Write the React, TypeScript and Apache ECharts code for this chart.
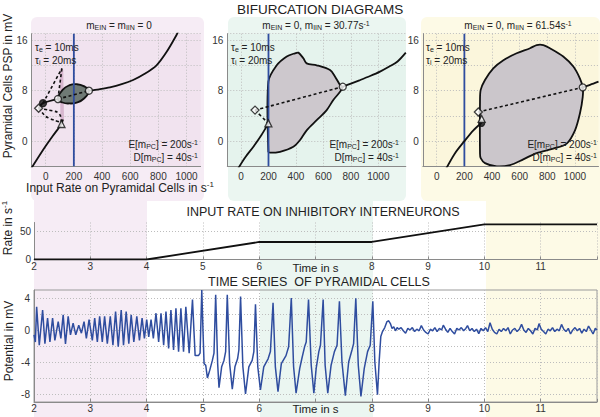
import React, { useEffect, useRef } from "react";
import * as echarts from "echarts";

const FONT = "'Liberation Sans', Arial, Helvetica, sans-serif";

// ---------- Bifurcation diagrams (top) ----------
const bifXTickValues = [0, 200, 400, 600, 800, 1000];
const bifYTickLabels = [0, 8, 16];
const meanInputPC = 200; // E[mPC], blue line

// Panel 1: mEIN = mIIN = 0
const p1LowerBranch = [[-110, -4.6], [-50, -2.5], [0, -0.8], [50, 0.8], [90, 2.0], [112, 2.7], [123, 3.4]];
const p1UpperLeft = [[-50, 5.2], [-19, 6.0], [87, 6.65]];
const p1UpperRight = [[307, 7.97], [380, 8.2], [456, 8.5], [540, 9.0], [621, 9.66], [700, 10.6], [787, 12.0], [858, 14.1], [929, 16.8], [945, 17.6]];
const p1DashedLowA = [[-50, 5.2], [20, 4.9], [80, 4.6], [105, 4.0], [112, 2.9]];
const p1DashedLowB = [[-50, 5.2], [0, 3.9], [60, 3.3], [100, 3.0], [112, 2.7]];
const p1DashedUpA = [[-19, 6.0], [115, 11.5]];
const p1DashedUpB = [[87, 6.65], [115, 11.5]];
const p1DashedCycle = [[87, 6.65], [307, 7.97]];
const p1Cycle = [[87, 6.65], [120, 8.1], [170, 8.85], [220, 9.0], [270, 8.7], [307, 7.97], [270, 6.7], [220, 6.1], [170, 5.95], [120, 6.1]];
const p1Strip = [[100, 11.5], [125, 11.3], [130, 3.2], [105, 3.0]];
const p1WhiteCircles = [[87, 6.65], [307, 7.97]];
const p1BlackDots = [[-19, 6.0]];
const p1Diamonds = [[-50, 5.2]];
const p1Triangles = [[112, 2.7]];

// Panel 2: mEIN = 0, mIIN = 30.77
const p2LowerBranch = [[-20, -4.3], [30, -2.6], [90, -0.9], [150, 1.0], [199, 2.8]];
const p2UpperBranch = [[741, 8.6], [800, 9.1], [867, 9.66], [940, 10.3], [1012, 11.0], [1080, 11.8], [1140, 12.6], [1200, 14.0]];
const p2DashedA = [[102, 4.9], [741, 8.6]];
const p2DashedB = [[102, 4.9], [199, 2.8]];
const p2Cycle = [[199, 9.4], [260, 12.0], [333, 13.4], [393, 13.9], [418, 14.0], [454, 13.1], [478, 12.3], [551, 12.0], [648, 11.25], [685, 10.2], [721, 8.9], [741, 8.6], [721, 7.8], [672, 6.5], [624, 4.9], [551, 3.3], [478, 1.7], [430, 0.16], [381, -0.9], [284, -1.7], [211, -1.85], [199, -1.7]];
const p2WhiteCircles = [[741, 8.6]];
const p2Diamonds = [[102, 4.9]];
const p2Triangles = [[199, 2.8]];

// Panel 3: mEIN = 0, mIIN = 61.54
const p3LowerBranch = [[60, -4.7], [130, -2.0], [197, -0.1], [265, 1.7], [325, 2.9]];
const p3UpperBranch = [[1056, 8.5], [1109, 8.9], [1170, 9.4]];
const p3Dashed = [[301, 4.6], [1056, 8.5]];
const p3Cycle = [[313, 6.5], [318, 8.1], [349, 9.66], [409, 11.5], [482, 12.8], [578, 13.9], [675, 14.7], [723, 15.2], [771, 15.2], [819, 14.7], [915, 13.4], [988, 11.8], [1036, 9.9], [1056, 8.5], [1056, 7.0], [1036, 4.4], [1000, 1.7], [940, -0.4], [843, -1.2], [723, -1.9], [626, -2.9], [530, -3.8], [434, -4.0], [349, -3.5], [318, -2.7], [313, -2.0]];
const p3WhiteCircles = [[1056, 8.5]];
const p3Diamonds = [[301, 4.6]];
const p3Triangles = [[325, 3.5]];
const p3BlackDots = [[325, 2.8]];

// ---------- Input rate on inhibitory interneurons (middle) ----------
const inhibitoryRate = [[2, 0], [4, 0], [6, 30.77], [8, 30.77], [10, 61.54], [12, 61.54]];
const rateTickLabels = [0, 50];

// ---------- Time series of pyramidal cells (bottom) ----------
const potentialTicks = [-8, -6, -4, -2, 0, 2, 4];
const potentialLabels = [-8, -4, 0, 4];
const pyramidalPotential = [
  [2.0, -0.6], [2.024, -1.5], [2.047, 2.9], [2.094, -1.9], [2.153, 2.5], [2.194, -1.7], [2.241, 1.5], [2.283, -1.5],
  [2.33, 1.5], [2.371, -1.3], [2.43, 1.05], [2.477, -1.05], [2.518, 1.9], [2.559, -1.75], [2.607, 1.7], [2.648, -0.6],
  [2.695, 0.85], [2.742, -0.6], [2.795, 0.6], [2.842, -0.4], [2.889, 1.05], [2.93, -1.05], [2.978, 1.3], [3.036, -1.3],
  [3.078, 1.5], [3.125, -1.5], [3.166, 1.7], [3.213, -1.5], [3.254, 1.7], [3.302, -1.7], [3.355, 1.7], [3.402, -1.9],
  [3.449, 2.3], [3.496, -2.1], [3.549, 2.5], [3.59, -1.9], [3.637, 2.3], [3.684, -1.7], [3.726, 1.9], [3.773, -1.5],
  [3.826, 1.7], [3.873, -1.3], [3.92, 1.5], [3.961, -1.05], [4.002, 1.3], [4.038, -0.85], [4.079, 1.3], [4.12, -1.05],
  [4.167, 2.1], [4.214, -1.5], [4.256, 2.1], [4.303, -1.9], [4.344, 2.3], [4.391, -2.3], [4.432, 2.5], [4.479, -2.5],
  [4.521, 2.7], [4.568, -2.7], [4.609, 2.7], [4.656, -2.7], [4.697, 2.9], [4.756, -2.9], [4.815, 3.8], [4.862, -3.2],
  [4.921, -3.2], [4.95, -2.9], [4.98, 5.0], [5.005, -0.85], [5.021, -4.2], [5.05, -4.4], [5.08, -6.0], [5.121, -5.05],
  [5.168, -3.8], [5.197, -2.9], [5.227, 4.4], [5.262, -4.2], [5.286, -7.2], [5.333, -4.6], [5.374, -3.8], [5.404, -2.7],
  [5.433, 4.4], [5.475, -4.2], [5.522, -7.4], [5.569, -4.6], [5.616, -3.6], [5.639, -2.5], [5.669, 4.2], [5.71, -4.6],
  [5.757, -8.0], [5.816, -4.6], [5.875, -3.8], [5.905, -2.7], [5.934, 3.2], [5.975, -4.6], [6.022, -7.5], [6.081, -4.6],
  [6.158, -3.6], [6.199, -2.7], [6.246, 3.4], [6.287, -4.6], [6.334, -7.7], [6.393, -4.2], [6.476, -3.2], [6.523, -2.1],
  [6.57, 4.0], [6.611, -4.6], [6.655, -7.9], [6.72, -4.8], [6.76, -3.5], [6.806, -2.1], [6.835, -1.5], [6.876, 3.8],
  [6.924, -4.4], [6.971, -7.9], [7.012, -4.8], [7.059, -2.7], [7.088, -1.9], [7.136, 3.8], [7.171, -4.4], [7.218, -7.9],
  [7.277, -4.4], [7.336, -2.7], [7.383, -1.9], [7.425, 3.6], [7.47, -4.0], [7.53, -8.2], [7.589, -4.0], [7.648, -2.5],
  [7.677, -1.7], [7.716, 3.96], [7.76, -4.4], [7.807, -8.3], [7.866, -4.8], [7.925, -2.7], [7.972, -1.9], [8.018, 3.6],
  [8.054, -4.0], [8.101, -8.1], [8.13, -4.0], [8.16, -0.8], [8.19, -0.2], [8.23, 0.3], [8.27, 1.05], [8.3, 1.15],
  [8.33, 0.8], [8.36, 0.2], [8.39, 0.4], [8.42, -0.1], [8.45, 0.3], [8.48, 0.1], [8.52, 0.3], [8.56, -0.1],
  [8.6, -0.4], [8.64, 0.2], [8.68, 0.0], [8.72, 0.3], [8.76, -0.2], [8.8, 0.1], [8.84, -0.1], [8.88, 0.55],
  [8.92, 0.0], [8.96, -0.3], [9.0, -0.5], [9.04, 0.1], [9.08, -0.1], [9.12, 0.3], [9.16, -0.2], [9.2, 0.2],
  [9.24, 0.0], [9.27, 0.6], [9.31, 0.1], [9.35, -0.3], [9.39, 0.2], [9.43, -0.2], [9.47, -0.5], [9.51, 0.2],
  [9.55, 0.0], [9.59, 0.3], [9.63, -0.1], [9.67, 0.2], [9.7, 0.55], [9.74, -0.1], [9.78, 0.2], [9.82, -0.2],
  [9.86, 0.1], [9.9, -0.45], [9.94, 0.2], [9.98, -0.1], [10.02, 0.3], [10.06, -0.2], [10.1, 0.9], [10.14, 0.1],
  [10.18, -0.3], [10.22, -0.5], [10.26, 0.1], [10.3, -0.2], [10.34, 0.2], [10.38, -0.1], [10.42, 0.3], [10.46, -0.5],
  [10.5, 0.0], [10.54, 0.2], [10.58, -0.2], [10.62, 0.1], [10.66, 0.7], [10.7, 0.0], [10.74, -0.3], [10.78, 0.2],
  [10.82, -0.1], [10.86, -0.5], [10.9, 0.2], [10.94, 0.0], [10.97, 0.8], [11.01, 0.1], [11.05, -0.2], [11.09, -0.5],
  [11.13, 0.1], [11.17, -0.1], [11.21, 0.3], [11.25, -0.2], [11.29, 0.1], [11.33, -0.1], [11.37, 0.7], [11.41, 0.1],
  [11.45, -0.2], [11.49, 0.2], [11.53, -0.5], [11.57, 0.0], [11.61, 0.3], [11.65, -0.1], [11.69, 0.2], [11.73, -0.4],
  [11.77, 0.1], [11.81, -0.2], [11.85, 0.5], [11.89, 0.0], [11.93, -0.5], [11.97, 0.2], [12.0, 0.0],
];

const BLUE = "#2f4d9f";
const BLACK = "#111";
const GRID_LINE = { color: "#bdbdbd", type: [1, 2], width: 1 };
const AXIS_LINE = { color: "#8a8a8a", width: 1 };

const solid = (data: number[][], i: number, color = BLACK, width = 1.8, smooth: number | boolean = 0.3, z = 4) => ({
  type: "line", xAxisIndex: i, yAxisIndex: i, data, symbol: "none", showSymbol: false, smooth,
  lineStyle: { color, width, type: "solid" }, z, silent: true,
});
const dashed = (data: number[][], i: number) => ({
  type: "line", xAxisIndex: i, yAxisIndex: i, data, symbol: "none", showSymbol: false, smooth: 0.2,
  lineStyle: { color: BLACK, width: 1.6, type: [3, 2.5] }, z: 5, silent: true,
});
const marker = (data: number[][], i: number, symbol: string, size: number, fill: string) => ({
  type: "scatter", xAxisIndex: i, yAxisIndex: i, data, symbol, symbolSize: size,
  itemStyle: { color: fill, borderColor: BLACK, borderWidth: 1.3 }, z: 7, silent: true,
});
const region = (pts: number[][], i: number, fill: string, stroke: string | null, smooth: number, z = 2) => ({
  type: "custom", xAxisIndex: i, yAxisIndex: i, data: [pts[0]], clip: true, z, silent: true,
  renderItem: (_p: any, api: any) => ({
    type: "polygon",
    shape: { points: pts.map((p) => api.coord(p)), smooth },
    style: { fill, stroke: stroke || "none", lineWidth: stroke ? 1.8 : 0 },
  }),
});

const rich = {
  b: { fontSize: 10, fontFamily: FONT, fill: "#222" },
  s: { fontSize: 7, fontFamily: FONT, fill: "#222", padding: [4, 0, 0, 0] },
  p: { fontSize: 7, fontFamily: FONT, fill: "#222", padding: [0, 0, 4, 0] },
  B: { fontSize: 12, fontFamily: FONT, fill: "#222" },
  P: { fontSize: 8, fontFamily: FONT, fill: "#222", padding: [0, 0, 7, 0] },
};

const txt = (x: number, y: number, text: string, size: number, align = "center", rotation = 0, useRich = false) => ({
  type: "text", x, y, rotation, z: 100, silent: true,
  style: {
    text, fill: "#222", font: `${size}px ${FONT}`, fontSize: size, fontFamily: FONT,
    align, verticalAlign: "middle", textAlign: align, textVerticalAlign: "middle",
    ...(useRich ? { rich } : {}),
  },
});
const rect = (x: number, y: number, w: number, h: number, fill: string, r = 0) => ({
  type: "rect", z: -1, silent: true, shape: { x, y, width: w, height: h, r }, style: { fill },
});

const topGrids = [
  { left: 31.6, top: 33.7, width: 169, height: 132.6, max: 1100 },
  { left: 227.3, top: 33.7, width: 178.5, height: 132.6, max: 1200 },
  { left: 422.9, top: 33.7, width: 175.6, height: 132.6, max: 1170 },
];
const innerTints = ["#f1e3ef", "#e5f3ed", "#fbf6dc"];

export default function App() {
  const ref = useRef<HTMLDivElement>(null);
  useEffect(() => {
    if (!ref.current) return;
    const chart = echarts.init(ref.current, undefined, { renderer: "svg" });

    const grids: any[] = topGrids.map((g, i) => ({
      left: g.left, top: g.top, width: g.width, height: g.height, show: true,
      backgroundColor: innerTints[i], borderWidth: 0,
    }));
    grids.push({ left: 34, top: 222.5, width: 565, height: 37 });
    grids.push({ left: 34, top: 290, width: 565, height: 112, show: true, borderColor: "#9a9a9a", borderWidth: 1, backgroundColor: "transparent" });

    const xAxes: any[] = topGrids.map((g, i) => ({
      gridIndex: i, type: "value", min: -100, max: g.max,
      axisLine: { show: true, onZero: false, lineStyle: AXIS_LINE },
      axisTick: { show: false, customValues: bifXTickValues },
      axisLabel: {
        customValues: bifXTickValues, fontSize: 10, fontFamily: FONT, color: "#333", margin: 5,
        formatter: (v: number) => String(v),
      },
      splitLine: { show: true, lineStyle: GRID_LINE },
    }));
    const timeAxis = (gi: number, margin: number) => ({
      gridIndex: gi, type: "value", min: 2, max: 12, interval: 1,
      axisLine: { show: true, onZero: false, lineStyle: AXIS_LINE },
      axisTick: { show: true, inside: true, length: 3, lineStyle: AXIS_LINE },
      axisLabel: {
        fontSize: 10, fontFamily: FONT, color: "#333", margin,
        formatter: (v: number) => (v === 7 ? "{t|Time in s}" : v === 12 ? "" : String(v)),
        rich: { t: { fontSize: 11.5, fontFamily: FONT, color: "#222" } },
      },
      splitLine: { show: true, lineStyle: GRID_LINE },
    });
    xAxes.push(timeAxis(3, 2));
    xAxes.push(timeAxis(4, 1));

    const yAxes: any[] = topGrids.map((_g, i) => ({
      gridIndex: i, type: "value", min: -4, max: 17, interval: 4,
      axisLine: { show: true, onZero: false, lineStyle: AXIS_LINE },
      axisTick: { show: false },
      axisLabel: {
        fontSize: 10, fontFamily: FONT, color: "#333", margin: 4,
        formatter: (v: number) => (bifYTickLabels.includes(v) ? String(v) : ""),
      },
      splitLine: { show: true, lineStyle: GRID_LINE },
    }));
    yAxes.push({
      gridIndex: 3, type: "value", min: 0, max: 65,
      axisLine: { show: true, lineStyle: AXIS_LINE },
      axisTick: { show: false, customValues: rateTickLabels },
      axisLabel: { customValues: rateTickLabels, fontSize: 10, fontFamily: FONT, color: "#333", margin: 3 },
      splitLine: { show: true, lineStyle: GRID_LINE },
    });
    yAxes.push({
      gridIndex: 4, type: "value", min: -9, max: 5,
      axisLine: { show: true, lineStyle: AXIS_LINE },
      axisTick: { show: false, customValues: potentialTicks },
      axisLabel: { customValues: potentialLabels, fontSize: 10, fontFamily: FONT, color: "#333", margin: 4 },
      splitLine: { show: true, lineStyle: GRID_LINE },
    });

    const blue = (i: number) => solid([[meanInputPC, -4], [meanInputPC, 17]], i, BLUE, 1.8, false, 3);

    const series: any[] = [
      // panel 1
      region(p1Strip, 0, "#d7b7cf", null, 0, 1),
      region(p1Cycle, 0, "#6f7a75", BLACK, 0.5, 2),
      blue(0),
      solid(p1LowerBranch, 0),
      solid(p1UpperLeft, 0),
      solid(p1UpperRight, 0),
      dashed(p1DashedLowA, 0), dashed(p1DashedLowB, 0), dashed(p1DashedUpA, 0), dashed(p1DashedUpB, 0), dashed(p1DashedCycle, 0),
      marker(p1WhiteCircles, 0, "circle", 7, "#fff"),
      marker(p1BlackDots, 0, "circle", 7, BLACK),
      marker(p1Diamonds, 0, "diamond", 8, "#fff"),
      marker(p1Triangles, 0, "triangle", 7, "#fff"),
      // panel 2
      region(p2Cycle, 1, "#cdc8cd", BLACK, 0.3, 2),
      blue(1),
      solid(p2LowerBranch, 1),
      solid(p2UpperBranch, 1),
      dashed(p2DashedA, 1), dashed(p2DashedB, 1),
      marker(p2WhiteCircles, 1, "circle", 7, "#fff"),
      marker(p2Diamonds, 1, "diamond", 8, "#fff"),
      marker(p2Triangles, 1, "triangle", 7, "#fff"),
      // panel 3
      region(p3Cycle, 2, "#cbc6cb", BLACK, 0.3, 2),
      blue(2),
      solid(p3LowerBranch, 2),
      solid(p3UpperBranch, 2),
      dashed(p3Dashed, 2),
      marker(p3WhiteCircles, 2, "circle", 7, "#fff"),
      marker(p3Diamonds, 2, "diamond", 8, "#fff"),
      marker(p3BlackDots, 2, "circle", 6, BLACK),
      marker(p3Triangles, 2, "triangle", 7, "#fff"),
      // middle
      solid(inhibitoryRate, 3, BLACK, 1.8, false),
      // bottom
      solid(pyramidalPotential, 4, BLUE, 1.5, false),
    ];

    const graphics: any[] = [
      rect(31, 17, 173, 184, "#f6ecf5", 6),
      rect(228, 17, 178, 184, "#ebf6f1", 6),
      rect(421, 17, 179, 184, "#fdfae6", 6),
      rect(34, 196, 113, 221, "#f6ecf5"),
      rect(260, 196, 113, 221, "#ebf6f1"),
      rect(486, 196, 114, 221, "#fdfae6"),
      txt(320, 9, "BIFURCATION DIAGRAMS", 13.5),
      txt(119, 25, "{b|m}{s|EIN}{b| = m}{s|IIN}{b| = 0}", 10, "center", 0, true),
      txt(316, 25, "{b|m}{s|EIN}{b| = 0, m}{s|IIN}{b| = 30.77s}{p|-1}", 10, "center", 0, true),
      txt(518, 25, "{b|m}{s|EIN}{b| = 0, m}{s|IIN}{b| = 61.54s}{p|-1}", 10, "center", 0, true),
      txt(8, 86, "Pyramidal Cells PSP in mV", 12, "center", Math.PI / 2),
      txt(120, 188, "{B|Input Rate on Pyramidal Cells in s}{P|-1}", 12, "center", 0, true),
      txt(323, 212, "INPUT RATE ON INHIBITORY INTERNEURONS", 12.5),
      txt(8, 228, "{B|Rate in s}{P|-1}", 12, "center", Math.PI / 2, true),
      txt(319, 282, "TIME SERIES  OF PYRAMIDAL CELLS", 12.5),
      txt(9, 341, "Potential in mV", 12, "center", Math.PI / 2),
    ];
    const tauX = [35, 231, 426];
    const edRight = [198, 399, 597];
    for (let k = 0; k < 3; k++) {
      graphics.push(txt(tauX[k], 47, "{b|τ}{s|e}{b| = 10ms}", 10, "left", 0, true));
      graphics.push(txt(tauX[k], 60, "{b|τ}{s|i}{b| = 20ms}", 10, "left", 0, true));
      graphics.push(txt(edRight[k], 144, "{b|E[m}{s|PC}{b|] = 200s}{p|-1}", 10, "right", 0, true));
      graphics.push(txt(edRight[k], 157, "{b|D[m}{s|PC}{b|] = 40s}{p|-1}", 10, "right", 0, true));
    }

    chart.setOption({
      animation: false,
      backgroundColor: "#ffffff",
      grid: grids,
      xAxis: xAxes,
      yAxis: yAxes,
      series,
      graphic: { elements: graphics },
    });
    return () => chart.dispose();
  }, []);
  return <div ref={ref} style={{ position: "fixed", left: 0, top: 0, width: 600, height: 417 }} />;
}
